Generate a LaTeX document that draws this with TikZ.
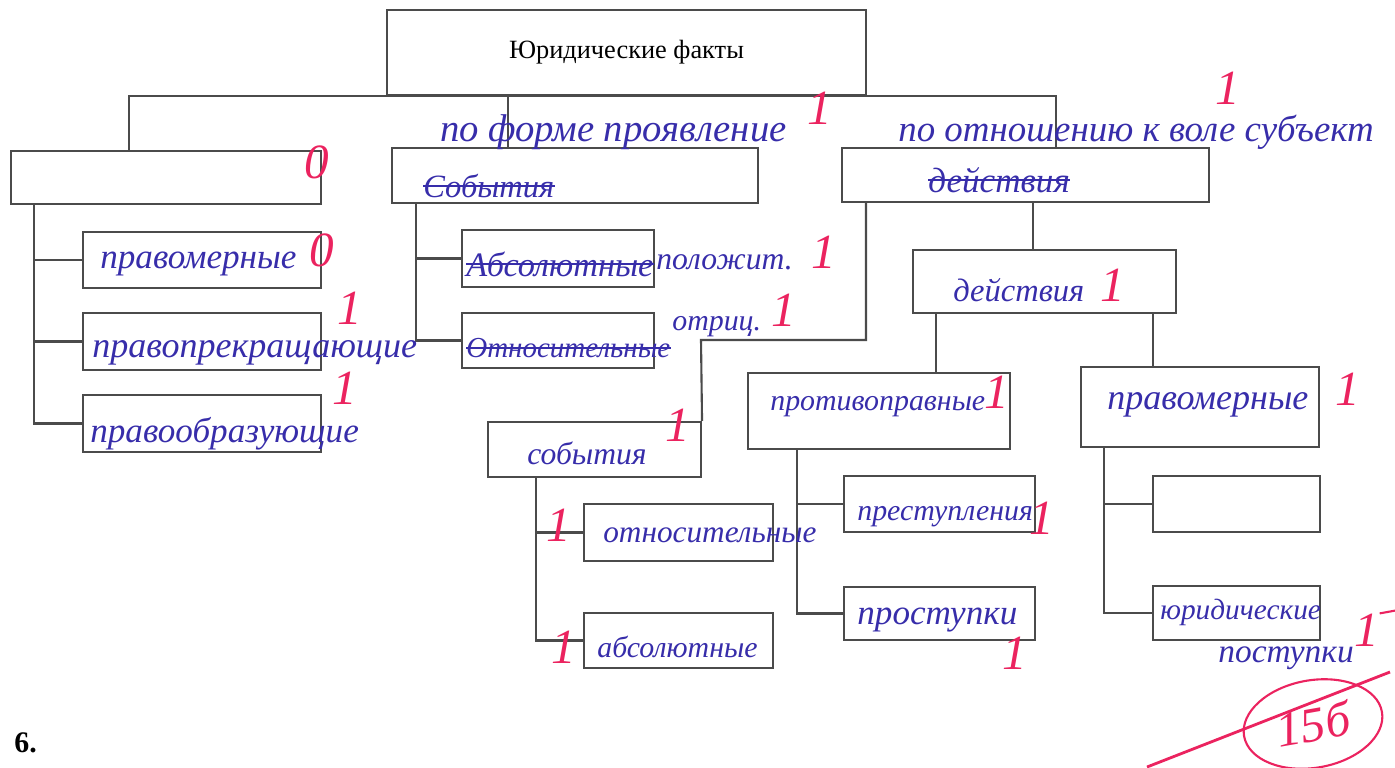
\documentclass[tikz,border=0pt]{standalone}
\usepackage{fontspec}
\setmainfont{Liberation Serif}
\usetikzlibrary{shapes.geometric}
\definecolor{boxline}{RGB}{75,75,75}
\definecolor{bluepen}{RGB}{55,45,170}
\definecolor{redpen}{RGB}{235,35,95}
\newcommand{\pen}[1]{\fontsize{#1}{#1}\selectfont\itshape}
\tikzset{
	box/.style = {draw = boxline, line width = 1.2pt, inner sep = 0pt},
	link/.style = {draw = boxline, line width = 1.2pt},
	hand/.style = {anchor = west, text = bluepen, font = \pen{20}, inner sep = 0pt},
	grade/.style = {text = redpen, font = \fontsize{28}{30}\selectfont\itshape, inner sep = 0pt},
	strike/.style = {draw = bluepen, line width = 1.2pt}
}

\begin{document}
\begin{tikzpicture}[x = 0.02cm, y = -0.02cm]
	\useasboundingbox (0,0) rectangle (1395,767);
	\node[box, minimum width = 9.58cm, minimum height = 1.7cm, font = \fontsize{15}{17}\selectfont] (fakty) at (626.5,52.5) {Юридические факты};
	\node[box, minimum width = 6.2cm, minimum height = 1.06cm] (vid) at (166,177.5) {};
	\node[box, minimum width = 7.32cm, minimum height = 1.1cm] (forma) at (575,175.5) {};
	\node[box, minimum width = 7.34cm, minimum height = 1.08cm] (volya) at (1025.5,175) {};
	\node[box, minimum width = 4.76cm, minimum height = 1.12cm] (pm1) at (202,260) {};
	\node[box, minimum width = 4.76cm, minimum height = 1.14cm] (ppr) at (202,341.5) {};
	\node[box, minimum width = 4.76cm, minimum height = 1.14cm] (pob) at (202,423.5) {};
	\node[box, minimum width = 3.84cm, minimum height = 1.14cm] (abs1) at (558,258.5) {};
	\node[box, minimum width = 3.84cm, minimum height = 1.1cm] (otn1) at (558,340.5) {};
	\node[box, minimum width = 5.26cm, minimum height = 1.26cm] (deistv) at (1044.5,281.5) {};
	\node[box, minimum width = 4.26cm, minimum height = 1.1cm] (sob) at (594.5,449.5) {};
	\node[box, minimum width = 3.78cm, minimum height = 1.14cm] (otn2) at (678.5,532.5) {};
	\node[box, minimum width = 3.78cm, minimum height = 1.1cm] (abs2) at (678.5,640.5) {};
	\node[box, minimum width = 5.24cm, minimum height = 1.52cm] (prot) at (879,411) {};
	\node[box, minimum width = 4.76cm, minimum height = 1.6cm] (pmer) at (1200,407) {};
	\node[box, minimum width = 3.82cm, minimum height = 1.12cm] (prest) at (939.5,504) {};
	\node[box, minimum width = 3.82cm, minimum height = 1.06cm] (prost) at (939.5,613.5) {};
	\node[box, minimum width = 3.34cm, minimum height = 1.12cm] (empt) at (1236.5,504) {};
	\node[box, minimum width = 3.34cm, minimum height = 1.08cm] (yur) at (1236.5,613) {};

	\draw[link] (vid.north -| 129,0) |- (fakty.south) -| (volya.north -| 1056,0);
	\draw[link] (forma.north -| 508,0) -- (fakty.south -| 508,0);
	\draw[link] (vid.south -| 34,0) |- (pm1.west);
	\draw[link] (vid.south -| 34,0) |- (ppr.west);
	\draw[link] (vid.south -| 34,0) |- (pob.west);
	\draw[link] (forma.south -| 416,0) |- (abs1.west);
	\draw[link] (forma.south -| 416,0) |- (otn1.west);
	\coordinate (turn) at (701,340);
	\draw[link] (volya.south -| 866,0) |- (turn) -- (sob.north east);
	\draw[link] (volya.south -| 1033,0) -- (deistv.north -| 1033,0);
	\draw[link] (deistv.south -| 936,0) -- (prot.north -| 936,0);
	\draw[link] (deistv.south -| 1153,0) -- (pmer.north -| 1153,0);
	\draw[link] (sob.south -| 536,0) |- (otn2.west);
	\draw[link] (sob.south -| 536,0) |- (abs2.west);
	\draw[link] (prot.south -| 797,0) |- (prest.west);
	\draw[link] (prot.south -| 797,0) |- (prost.west);
	\draw[link] (pmer.south -| 1104,0) |- (empt.west);
	\draw[link] (pmer.south -| 1104,0) |- (yur.west);

	\node[hand, font = \pen{22}] (tforma) at (440,132) {по форме проявление};
	\node[hand, font = \pen{21}] (tvolya) at (898,132) {по отношению к воле субъект};
	\node[hand, font = \pen{18.5}] (xsob) at (423,186) {События};
	\node[hand] (xdei) at (928,180) {действия};
	\node[hand] (tpm1) at (100,264) {правомерные};
	\node[hand, font = \pen{20.5}] (tppr) at (92,353) {правопрекращающие};
	\node[hand] (tpob) at (90,434) {правообразующие};
	\node[hand, font = \pen{19.5}] (xabs) at (466,264) {Абсолютные};
	\node[hand, font = \pen{18}] (tpol) at (656,262) {положит.};
	\node[hand, font = \pen{16.5}] (xotn) at (466,348) {Относительные};
	\node[hand, font = \pen{17}] (totr) at (672,327) {отриц.};
	\node[hand, font = \pen{18.5}] (tdei) at (953,290) {действия};
	\node[hand, font = \pen{17}] (tprot) at (770,407) {противоправные};
	\node[hand, font = \pen{20.5}] (tpmer) at (1107,405) {правомерные};
	\node[hand, font = \pen{18}] (tsob) at (527,453) {события};
	\node[hand, font = \pen{17.8}] (totn) at (603,535) {относительные};
	\node[hand, font = \pen{17}] (tabs) at (597,647) {абсолютные};
	\node[hand, font = \pen{17}] (tprest) at (857,517) {преступления};
	\node[hand, font = \pen{20}] (tprost) at (857,620) {проступки};
	\node[hand, font = \pen{16.7}] (tyur) at (1160,612) {юридические};
	\node[hand, font = \pen{19}] (tpost) at (1218,658) {поступки};
	\draw[strike] (xsob.west) -- (xsob.east);
	\draw[strike] (xdei.west) -- (xdei.east);
	\draw[strike] (xabs.west) -- (xabs.east);
	\draw[strike] (xotn.west) -- (xotn.east);

	\node[grade] (g1) at (317,162) {0};
	\node[grade] (g2) at (322,250) {0};
	\node[grade] (g3) at (350,308) {1};
	\node[grade] (g4) at (345,388) {1};
	\node[grade] (g5) at (820,108) {1};
	\node[grade] (g6) at (1228,88) {1};
	\node[grade] (g7) at (824,252) {1};
	\node[grade] (g8) at (784,310) {1};
	\node[grade] (g9) at (1113,285) {1};
	\node[grade] (g10) at (997,392) {1};
	\node[grade] (g11) at (1348,389) {1};
	\node[grade] (g12) at (678,425) {1};
	\node[grade] (g13) at (559,525) {1};
	\node[grade] (g14) at (564,647) {1};
	\node[grade] (g15) at (1042,518) {1};
	\node[grade] (g16) at (1015,653) {1};
	\node[grade] (g17) at (1367,630) {1};
	\draw[redpen, line width = 1.2pt] (g17.north east) -- ++(22,-4);
	\node[grade, ellipse, draw = redpen, line width = 1.2pt, minimum width = 2.8cm, minimum height = 1.75cm, rotate = 10] (total) at (1313,724) {15б};
	\coordinate (cut1) at (1147,767);
	\coordinate (cut2) at (1390,672);
	\draw[redpen, line width = 1.6pt] (cut1) -- (cut2);

	\node[anchor = base west, font = \fontsize{17}{19}\selectfont\bfseries, inner sep = 0pt] (num) at (14,752) {6.};
\end{tikzpicture}
\end{document}
